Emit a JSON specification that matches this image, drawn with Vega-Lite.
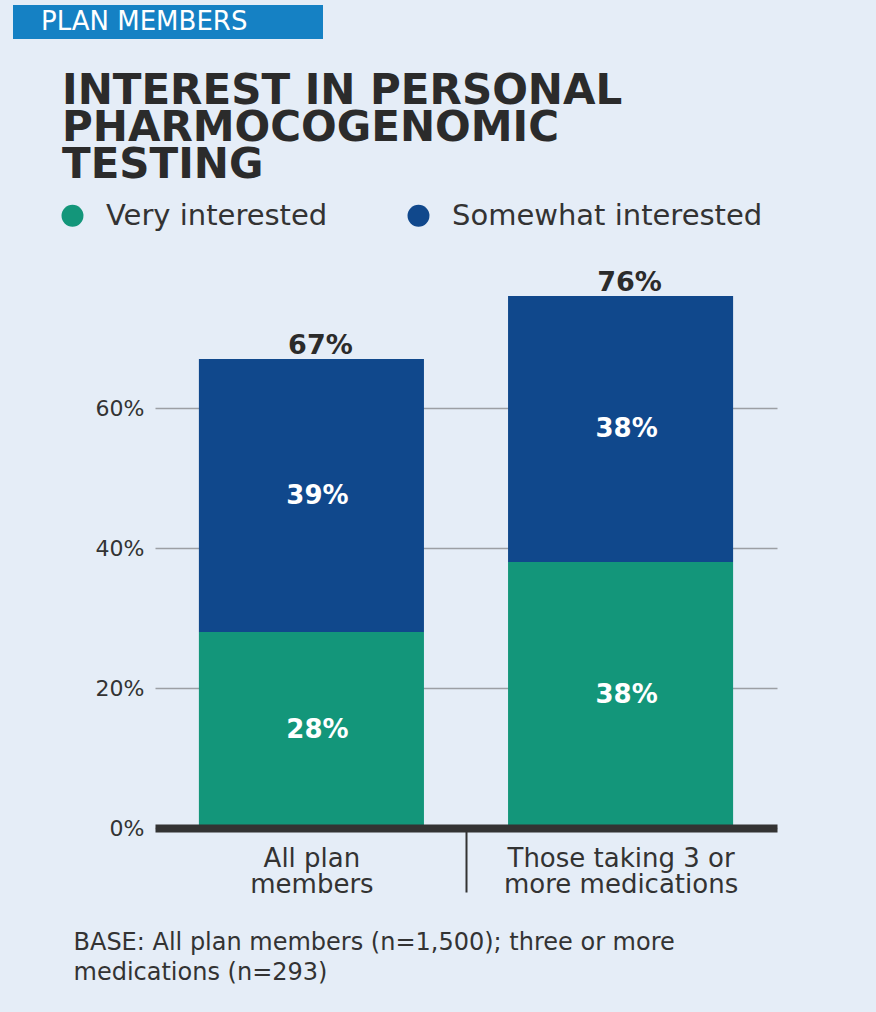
{
  "$schema": "https://vega.github.io/schema/vega-lite/v6.json",
  "width": 622,
  "height": 560,
  "autosize": "none",
  "padding": {"left": 155, "top": 268, "right": 99, "bottom": 184},
  "background": "#e5edf7",
  "config": {"view": {"stroke": null}, "font": "DejaVu Sans"},
  "title": {
    "text": ["INTEREST IN PERSONAL", "PHARMOCOGENOMIC", "TESTING"],
    "anchor": "start",
    "frame": "group",
    "orient": "top",
    "baseline": "top",
    "offset": 0,
    "dx": -93,
    "dy": 178,
    "font": "DejaVu Sans",
    "fontWeight": "bold",
    "fontSize": 42,
    "lineHeight": 37,
    "color": "#2b2b2b"
  },
  "data": {
    "values": [
      {"group": "All plan members", "level": "Very interested", "pct": 0.28, "section": "PLAN MEMBERS"},
      {"group": "All plan members", "level": "Somewhat interested", "pct": 0.39, "section": "PLAN MEMBERS"},
      {"group": "Those taking 3 or more medications", "level": "Very interested", "pct": 0.38, "section": "PLAN MEMBERS"},
      {"group": "Those taking 3 or more medications", "level": "Somewhat interested", "pct": 0.38, "section": "PLAN MEMBERS"}
    ]
  },
  "encoding": {
    "x": {
      "field": "group",
      "type": "nominal",
      "scale": {"paddingInner": 0.272, "paddingOuter": 0.142},
      "axis": {
        "title": ["BASE: All plan members (n=1,500); three or more", "medications (n=293)"],
        "titleAnchor": "start",
        "titleAlign": "left",
        "titleBaseline": "top",
        "titleX": -82,
        "titleY": 102,
        "titleFont": "DejaVu Sans",
        "titleFontSize": 24,
        "titleFontWeight": "normal",
        "titleColor": "#333333",
        "titleLineHeight": 30,
        "labelExpr": "datum.value == 'All plan members' ? ['All plan', 'members'] : ['Those taking 3 or', 'more medications']",
        "labelAngle": 0,
        "labelFont": "DejaVu Sans",
        "labelFontSize": 26,
        "labelColor": "#333333",
        "labelLineHeight": 26,
        "labelBaseline": "top",
        "labelPadding": -47,
        "labelLimit": 400,
        "labelOffset": -154.5,
        "tickOffset": 154.5,
        "tickSize": 64,
        "tickWidth": 2,
        "tickColor": "#333333",
        "tickOpacity": {"condition": {"test": "datum.value === 'Those taking 3 or more medications'", "value": 0}, "value": 1},
        "domainWidth": 8,
        "domainColor": "#333333",
        "grid": false,
        "zindex": 1
      }
    }
  },
  "layer": [
    {
      "mark": {"type": "bar"},
      "encoding": {
        "y": {
          "field": "pct",
          "type": "quantitative",
          "stack": "zero",
          "scale": {"domain": [0, 0.8]},
          "axis": {
            "title": null,
            "values": [0, 0.2, 0.4, 0.6],
            "format": ".0%",
            "labelFont": "DejaVu Sans",
            "labelFontSize": 22,
            "labelColor": "#333333",
            "labelPadding": 11,
            "ticks": false,
            "domain": false,
            "grid": true,
            "gridColor": "#9c9fa4",
            "gridWidth": 1.3,
            "zindex": 0
          }
        },
        "color": {
          "field": "level",
          "type": "nominal",
          "scale": {"domain": ["Very interested", "Somewhat interested"], "range": ["#13967a", "#10488c"]},
          "legend": {
            "orient": "none",
            "legendX": -97,
            "legendY": -67,
            "direction": "horizontal",
            "title": null,
            "padding": 0,
            "symbolType": "circle",
            "symbolSize": 480,
            "symbolStrokeWidth": 0,
            "labelFont": "DejaVu Sans",
            "labelFontSize": 29,
            "labelColor": "#333333",
            "labelOffset": 19,
            "labelLimit": 500,
            "columnPadding": 76
          }
        },
        "order": {"field": "level", "sort": "descending"}
      }
    },
    {
      "mark": {"type": "point", "filled": true, "color": "#1581c4", "size": 0, "opacity": 1},
      "encoding": {
        "shape": {
          "field": "section",
          "type": "nominal",
          "scale": {"range": ["M-15,-17H295V17H-15Z"]},
          "legend": {
            "orient": "none",
            "legendX": -140,
            "legendY": -259,
            "title": null,
            "padding": 0,
            "symbolSize": 4,
            "symbolFillColor": "#1581c4",
            "symbolOpacity": 1,
            "symbolStrokeWidth": 0,
            "labelFont": "DejaVu Sans",
            "labelFontSize": 26,
            "labelColor": "#ffffff",
            "labelOffset": 0,
            "labelLimit": 500
          }
        }
      }
    },
    {
      "transform": [
        {"stack": "pct", "groupby": ["group"], "sort": [{"field": "level", "order": "descending"}], "as": ["v0", "v1"]},
        {"fold": ["v0", "v1"], "as": ["edge", "pos"]},
        {"aggregate": [{"op": "mean", "field": "pos", "as": "mid"}], "groupby": ["group", "level", "pct"]}
      ],
      "mark": {"type": "text", "baseline": "middle", "dx": 6, "fontWeight": "bold", "fontSize": 26, "color": "#ffffff"},
      "encoding": {
        "y": {"field": "mid", "type": "quantitative"},
        "text": {"field": "pct", "type": "quantitative", "format": ".0%"}
      }
    },
    {
      "mark": {"type": "text", "baseline": "alphabetic", "dx": 9, "dy": -5, "fontWeight": "bold", "fontSize": 27, "color": "#2b2b2b"},
      "encoding": {
        "y": {"aggregate": "sum", "field": "pct", "type": "quantitative"},
        "text": {"aggregate": "sum", "field": "pct", "type": "quantitative", "format": ".0%"}
      }
    }
  ]
}
